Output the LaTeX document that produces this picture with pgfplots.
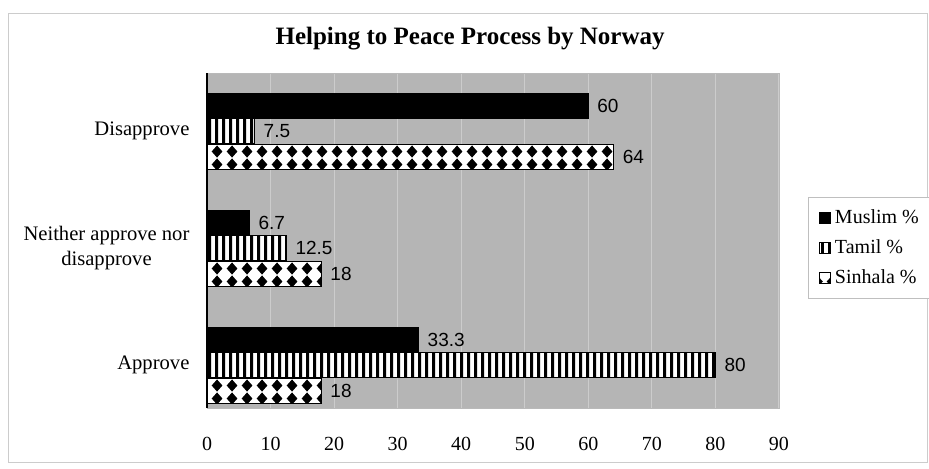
\documentclass[border=0pt]{standalone}
\usepackage{pgfplots}
\pgfplotsset{compat=1.18}
\usepackage{fontspec}
\setmainfont{Liberation Serif}
\newfontfamily\arial{Liberation Sans}
\usetikzlibrary{patterns.meta}

\pgfdeclarepattern{name=vstripes, type=uncolored,
  bottom left={\pgfpoint{0pt}{0pt}}, top right={\pgfpoint{3.6pt}{20pt}},
  tile size={\pgfpoint{3.6pt}{20pt}},
  code={\pgfpathrectangle{\pgfpoint{0pt}{-1pt}}{\pgfpoint{1.7pt}{22pt}}\pgfusepath{fill}}}

\pgfdeclarepattern{name=diamonds, type=uncolored,
  bottom left={\pgfpoint{0pt}{0pt}}, top right={\pgfpoint{7.5pt}{6.484pt}},
  tile size={\pgfpoint{7.5pt}{6.484pt}},
  code={\pgfpathmoveto{\pgfpoint{3.75pt}{0.2pt}}\pgfpathlineto{\pgfpoint{6.6pt}{3.242pt}}\pgfpathlineto{\pgfpoint{3.75pt}{6.28pt}}\pgfpathlineto{\pgfpoint{0.9pt}{3.242pt}}\pgfpathclose\pgfusepath{fill}}}

\begin{document}
\begin{tikzpicture}
\path[use as bounding box] (0,0) rectangle (464.5pt,-234.5pt);
\draw[gray!40] (4pt,-6.5pt) rectangle (463.5pt,-231pt);
\begin{axis}[
  at={(103.5pt,-204pt)}, anchor=south west,
  scale only axis, width=286pt, height=167.5pt,
  xmin=0, xmax=90, ymin=-0.37, ymax=2.5,
  /pgf/number format/assume math mode=true,
  axis background/.style={fill=black!29},
  axis line style={draw=gray!55, -},
  xtick={0,10,...,90},
  xticklabel style={font=\fontsize{10}{12}\selectfont, yshift=-11pt},
  xtick style={draw=none},
  xmajorgrids, major grid style={draw=black!20, line width=0.5pt},
  ytick={0,1,2},
  yticklabels={Approve,{Neither approve nor\\disapprove},Disapprove},
  yticklabel style={align=center, font=\fontsize{10.3}{12.5}\selectfont, xshift=-1pt},
  ytick style={draw=none},
  extra y ticks={0.5,1.5}, extra y tick labels={},
  extra y tick style={tick style={draw=black!60, thin}, major tick length=4pt, tick align=outside},
  title={Helping to Peace Process by Norway},
  title style={font=\fontsize{12.5}{15}\bfseries, at={(0.46,1.068)}, anchor=center},
  xbar, bar width=0.214,
  nodes near coords,
  every node near coord/.append style={font=\arial\fontsize{9.5}{11}\selectfont, anchor=west, xshift=1pt},
  legend style={at={(1.0507,0.63)}, anchor=north west, draw=gray!50, fill=white,
    font=\fontsize{10}{12}\selectfont, row sep=2.6pt, inner xsep=5.5pt, inner ysep=4pt},
  legend cell align=left,
  legend image code/.code={\draw[#1] (0pt,-2.6pt) rectangle (5.4pt,2.6pt);},
  extra description/.code={\draw[black, line width=0.8pt] (rel axis cs:0,0) -- (rel axis cs:0,1);},
]
\addplot[bar shift=0.214, fill=black, draw=black] coordinates {(33.3,0) (6.7,1) (60,2)};
\addplot[bar shift=0, fill=white, draw=black, postaction={pattern=vstripes, pattern color=black}] coordinates {(80,0) (12.5,1) (7.5,2)};
\addplot[bar shift=-0.22, fill=white, draw=black, postaction={pattern=diamonds, pattern color=black}] coordinates {(18,0) (18,1) (64,2)};
\legend{Muslim \%, Tamil \%, Sinhala \%}
\end{axis}
\end{tikzpicture}
\end{document}
